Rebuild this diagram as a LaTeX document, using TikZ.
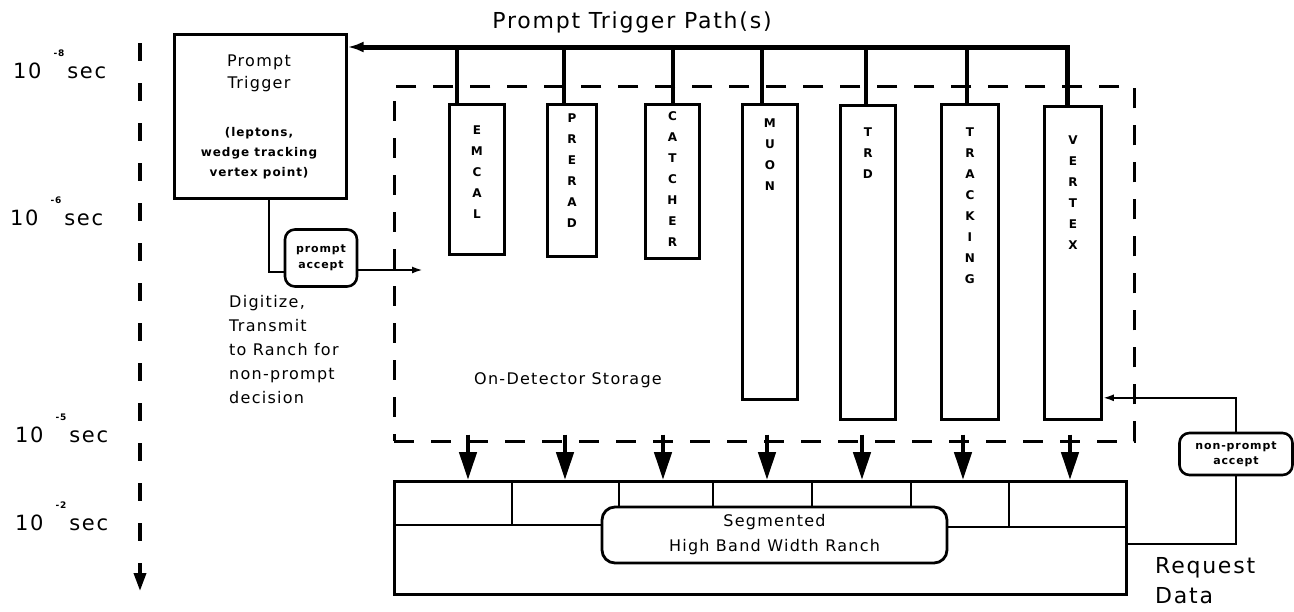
\documentclass[tikz,border=0pt]{standalone}
\usepackage{fontspec}
\setmainfont{DejaVu Sans}[LetterSpace=8]
\usepackage{tikz}
\usetikzlibrary{positioning,arrows.meta}
\newcommand{\fsz}[2]{\fontsize{#1}{#2}\selectfont}
\newcommand{\tpow}[1]{10\kern12pt\raisebox{22pt}{\fsz{9}{9}\bfseries #1}\kern3pt sec}
\tikzset{
  time-label/.style={anchor=base west,inner sep=0pt,font=\fsz{21}{24}},
  time-axis/.style={line width=3.6pt,dash pattern=on 18pt off 22pt,-{Triangle[length=18pt,width=12pt]}},
  plain-box/.style={draw,line width=2.6pt,anchor=north west,inner sep=0pt},
  det-box/.style={draw,line width=2.8pt,anchor=north west,inner sep=0pt},
  det-label/.style={anchor=north,align=center,inner sep=0pt,font=\fsz{12}{21}\bfseries},
  store-box/.style={draw,line width=2.6pt,dash pattern=on 20pt off 17pt,anchor=north west,
    minimum width=740pt,minimum height=355pt,inner sep=0pt},
  plain-text/.style={align=center,inner sep=0pt,font=\fsz{16}{22}},
  accept-box/.style={draw,line width=2.6pt,rounded corners=10pt,align=center,inner sep=0pt,
    font=\fsz{11}{16}\bfseries},
  bus-line/.style={line width=5pt,-{Latex[length=16pt,width=11pt]}},
  drop-line/.style={line width=3.2pt},
  arrow-down/.style={line width=4.5pt,shorten <=-8pt,-{Triangle[length=28pt,width=17pt]}},
  arrow-thin/.style={line width=2.2pt,-{Latex[length=11pt,width=7pt]}},
  cell-line/.style={line width=2.4pt},
}
\begin{document}
\begin{tikzpicture}[x=1pt,y=-1pt]
  \useasboundingbox (0,0) rectangle (1294,611);
  % time scale on the left
  \node[time-label] (t8) at (13,78)  {\tpow{-8}};
  \node[time-label] (t6) at (10,225) {\tpow{-6}};
  \node[time-label] (t5) at (15,442) {\tpow{-5}};
  \node[time-label] (t2) at (15,530) {\tpow{-2}};
  \coordinate (ax-top) at (140,43);
  \coordinate (ax-end) at (140,591);
  \draw[time-axis] (ax-top) -- (ax-end);

  % prompt trigger
  \node[plain-box,minimum width=172pt,minimum height=164pt] (trig) at (173,33) {};
  \node[plain-text] (trig-name) at (259,73) {Prompt\\Trigger};
  \node[plain-text,font=\fsz{12}{20}\bfseries] (trig-note) at (259,153) {(leptons,\\wedge tracking\\vertex point)};
  \node[accept-box,minimum width=72pt,minimum height=57pt] (pacc) at (321,258) {prompt\\accept};
  \coordinate (pa-end) at (423,270);
  \node[plain-text,anchor=north west,align=left,font=\fsz{16}{24}] (digi) at (229,295)
    {Digitize,\\Transmit\\to Ranch for\\non-prompt\\decision};

  % on-detector storage
  \node[store-box] (store) at (393,85) {};
  \node[plain-text] (store-name) at (568,380) {On-Detector Storage};
  \node[det-box,minimum width=55pt,minimum height=150pt] (emcal) at (448,103) {};
  \node[det-box,minimum width=49pt,minimum height=152pt] (prerad) at (546,103) {};
  \node[det-box,minimum width=54pt,minimum height=154pt] (catcher) at (644,103) {};
  \node[det-box,minimum width=55pt,minimum height=295pt] (muon) at (741,103) {};
  \node[det-box,minimum width=55pt,minimum height=314pt] (trd) at (839,104) {};
  \node[det-box,minimum width=57pt,minimum height=315pt] (trk) at (940,103) {};
  \node[det-box,minimum width=57pt,minimum height=313pt] (vtx) at (1043,105) {};
  \node[det-label] (emcal-name) at (emcal.north |- 0,126) {E\\M\\C\\A\\L};
  \node[det-label] (prerad-name) at (prerad.north |- 0,114) {P\\R\\E\\R\\A\\D};
  \node[det-label] (catcher-name) at (catcher.north |- 0,111) {C\\A\\T\\C\\H\\E\\R};
  \node[det-label] (muon-name) at (muon.north |- 0,119) {M\\U\\O\\N};
  \node[det-label] (trd-name) at (trd.north |- 0,128) {T\\R\\D};
  \node[det-label] (trk-name) at (trk.north |- 0,128) {T\\R\\A\\C\\K\\I\\N\\G};
  \node[det-label] (vtx-name) at (vtx.north |- 0,136) {V\\E\\R\\T\\E\\X};

  % prompt trigger paths
  \node[plain-text,font=\fsz{22}{26}] (path-name) at (632,22) {Prompt Trigger Path(s)};
  \coordinate (b-emcal) at (457,47);
  \coordinate (b-prerad) at (564,47);
  \coordinate (b-catcher) at (673,47);
  \coordinate (b-muon) at (762,47);
  \coordinate (b-trd) at (866,47);
  \coordinate (b-trk) at (967,47);
  \coordinate (b-vtx) at (1067,47);
  \draw[bus-line] (vtx.north -| b-vtx) -- (b-vtx) -- (b-vtx -| trig.east);
  \draw[drop-line] (b-emcal) -- (b-emcal |- emcal.north);
  \draw[drop-line] (b-prerad) -- (b-prerad |- prerad.north);
  \draw[drop-line] (b-catcher) -- (b-catcher |- catcher.north);
  \draw[drop-line] (b-muon) -- (b-muon |- muon.north);
  \draw[drop-line] (b-trd) -- (b-trd |- trd.north);
  \draw[drop-line] (b-trk) -- (b-trk |- trk.north);

  \draw[arrow-thin,-] ([xshift=9pt]trig.south) |- ([yshift=-14pt]pacc.west);
  \draw[arrow-thin] ([yshift=-12pt]pacc.east) -- (pa-end);

  % ranch
  \node[plain-box,line width=2.8pt,minimum width=732pt,minimum height=113pt] (ranch) at (393,480) {};
  \draw[cell-line] (393,525) -- (602,525);
  \draw[cell-line] (947,527) -- (1125,527);
  \draw[cell-line] (512,480) -- (512,525);
  \draw[cell-line] (619,480) -- (619,507);
  \draw[cell-line] (713,480) -- (713,507);
  \draw[cell-line] (812,480) -- (812,507);
  \draw[cell-line] (911,480) -- (911,507);
  \draw[cell-line] (1009,480) -- (1009,527);
  \node[accept-box,line width=2.8pt,fill=white,rounded corners=13pt,minimum width=345pt,minimum height=56pt,
    font=\fsz{16}{25}] (seg) at (774.5,535) {Segmented\\High Band Width Ranch};
  \draw[arrow-down] (store.south -| 468,0) -- (ranch.north -| 468,0);
  \draw[arrow-down] (store.south -| 565,0) -- (ranch.north -| 565,0);
  \draw[arrow-down] (store.south -| 663,0) -- (ranch.north -| 663,0);
  \draw[arrow-down] (store.south -| 767,0) -- (ranch.north -| 767,0);
  \draw[arrow-down] (store.south -| 862,0) -- (ranch.north -| 862,0);
  \draw[arrow-down] (store.south -| 963,0) -- (ranch.north -| 963,0);
  \draw[arrow-down] (store.south -| 1070,0) -- (ranch.north -| 1070,0);

  % request data
  \node[accept-box,minimum width=113pt,minimum height=42pt,font=\fsz{11}{15}\bfseries] (npacc) at (1236,454) {non-prompt\\accept};
  \draw[arrow-thin] (npacc.north) |- ([yshift=23pt]vtx.south east);
  \draw[arrow-thin,-] (npacc.south) |- ([yshift=-6pt]ranch.east);
  \node[plain-text,anchor=north west,align=left,font=\fsz{22}{30}] (req) at (1155,557) {Request\\Data};
\end{tikzpicture}
\end{document}
